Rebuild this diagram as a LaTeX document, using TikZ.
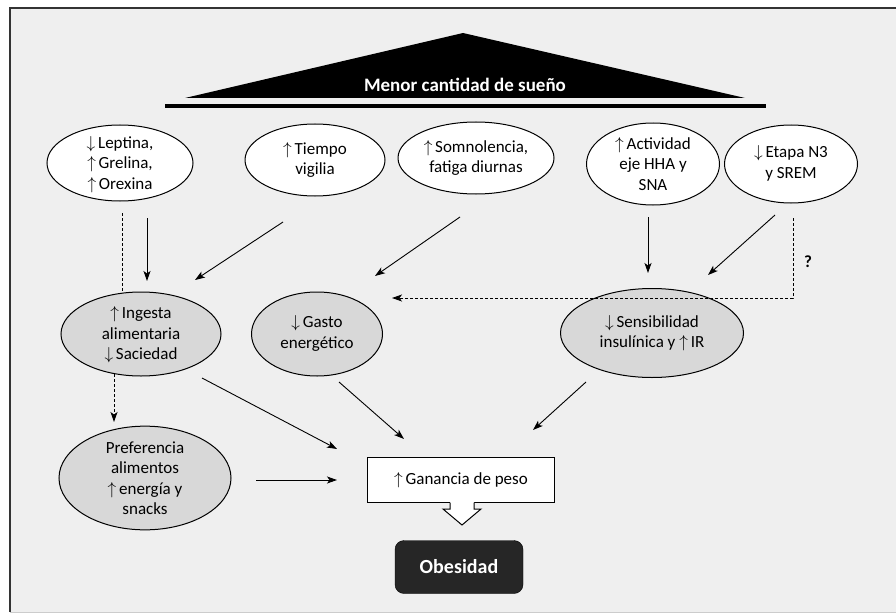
\documentclass[tikz,border=0pt]{standalone}
\usepackage{fontspec}
\setmainfont{Carlito}
\usetikzlibrary{shapes.geometric,arrows.meta}
\definecolor{bg}{HTML}{EFEFEF}
\definecolor{oval}{HTML}{D8D8D8}
\definecolor{darkbox}{HTML}{262626}
\newcommand{\up}{\smash{$\uparrow$}\,}
\newcommand{\dn}{\smash{$\downarrow$}\,}
\begin{document}
\begin{tikzpicture}[x=1pt,y=-1pt,
  font=\fontsize{17}{20.5}\selectfont,
  ov/.style={ellipse,draw,line width=1pt,fill=white,inner sep=0pt,align=center},
  gov/.style={ov,fill=oval},
  arr/.style={line width=0.9pt,-{Stealth[length=10pt,width=7pt,inset=2.5pt]}},
  dsh/.style={line width=0.9pt,dash pattern=on 3pt off 2pt}]
\useasboundingbox (0,0) rectangle (896,615);
\fill[white] (0,0) rectangle (896,615);
\fill[bg] (10,8) rectangle (896,612);
\draw[line width=1.5pt,black!80] (896,8) -- (10,8) -- (10,612);
\draw[line width=1pt,black!20] (10,612) -- (896,612);
% title triangle
\fill[black] (185,98) -- (463,33) -- (745,98) -- cycle;
\node[text=white,font=\bfseries\fontsize{19}{22}\selectfont] (title) at (465,85) {Menor cantidad de sueño};
\draw[line width=3.5pt] (165,106) -- (766,106);
% top ellipses
\node[ov,minimum width=146,minimum height=76] (lep) at (120,163) {\dn Leptina,\\\up Grelina,\\\up Orexina};
\node[ov,minimum width=140,minimum height=72] (tie) at (315,160) {\up Tiempo\\vigilia};
\node[ov,minimum width=156,minimum height=72] (som) at (476,158) {\up Somnolencia,\\fatiga diurnas};
\node[ov,minimum width=133,minimum height=82] (act) at (653,164) {\up Actividad\\eje HHA y\\SNA};
\node[ov,minimum width=133,minimum height=78] (eta) at (791,164) {\dn Etapa N3\\y SREM};
% middle ellipses
\node[gov,minimum width=160,minimum height=84] (ing) at (141,334) {\up Ingesta\\alimentaria\\\dn Saciedad};
\node[gov,minimum width=131,minimum height=84] (gas) at (317,334) {\dn Gasto\\energético};
\node[gov,minimum width=183,minimum height=89] (sen) at (652,333) {\dn Sensibilidad\\insulínica y \up IR};
\node[gov,minimum width=172,minimum height=92] (pre) at (145,478) {Preferencia\\alimentos\\\up energía y\\snacks};
% ganancia box with hollow arrow
\node[draw,line width=1pt,fill=white,minimum width=187,minimum height=45,inner sep=0pt] (gan) at (461,480) {\up Ganancia de peso};
\fill[white] (450,501) -- (450,509) -- (443,509) -- (462,525) -- (481,509) -- (474,509) -- (474,501) -- cycle;
\draw[line width=1pt,line join=miter] (450,502.5) -- (450,509) -- (443,509) -- (462,525) -- (481,509) -- (474,509) -- (474,502.5);
\node[fill=darkbox,draw=black,rounded corners=9pt,minimum width=128,minimum height=53,text=white,font=\bfseries\fontsize{20}{24}\selectfont] (obe) at (459,567) {Obesidad};
% connector coordinates
\coordinate (lepA) at (147,218); \coordinate (ingA) at (147,281);
\coordinate (lepD) at (122,213); \coordinate (ingD) at (122,293);
\coordinate (tieA) at (283,222); \coordinate (ingB) at (195,280);
\coordinate (somA) at (460,217); \coordinate (gasA) at (375,276);
\coordinate (actA) at (648,217); \coordinate (senA) at (648,273);
\coordinate (etaA) at (775,215); \coordinate (senB) at (708,275);
\coordinate (etaD) at (793,218); \coordinate (corner) at (793,298); \coordinate (gasD) at (392,298);
\coordinate (ingE) at (114,374); \coordinate (preD) at (114,422);
\coordinate (ingF) at (202,378); \coordinate (ganA) at (337,449);
\coordinate (gasF) at (339,382); \coordinate (ganB) at (404,439);
\coordinate (senF) at (586,382); \coordinate (ganC) at (533,430);
\coordinate (preF) at (256,480); \coordinate (ganD) at (337,480);
% connectors
\draw[arr] (lepA) -- (ingA);
\draw[dsh] (lepD) -- (ingD);
\draw[arr] (tieA) -- (ingB);
\draw[arr] (somA) -- (gasA);
\draw[arr] (actA) -- (senA);
\draw[arr] (etaA) -- (senB);
\draw[dsh,-{Stealth[length=10pt,width=7pt,inset=2.5pt]}] (etaD) -- (corner) -- (gasD);
\node[font=\bfseries\fontsize{17}{20}\selectfont] (q) at (808,262) {?};
\draw[dsh,-{Stealth[length=10pt,width=7pt,inset=2.5pt]}] (ingE) -- (preD);
\draw[arr] (ingF) -- (ganA);
\draw[arr] (gasF) -- (ganB);
\draw[arr] (senF) -- (ganC);
\draw[arr] (preF) -- (ganD);
\end{tikzpicture}
\end{document}
